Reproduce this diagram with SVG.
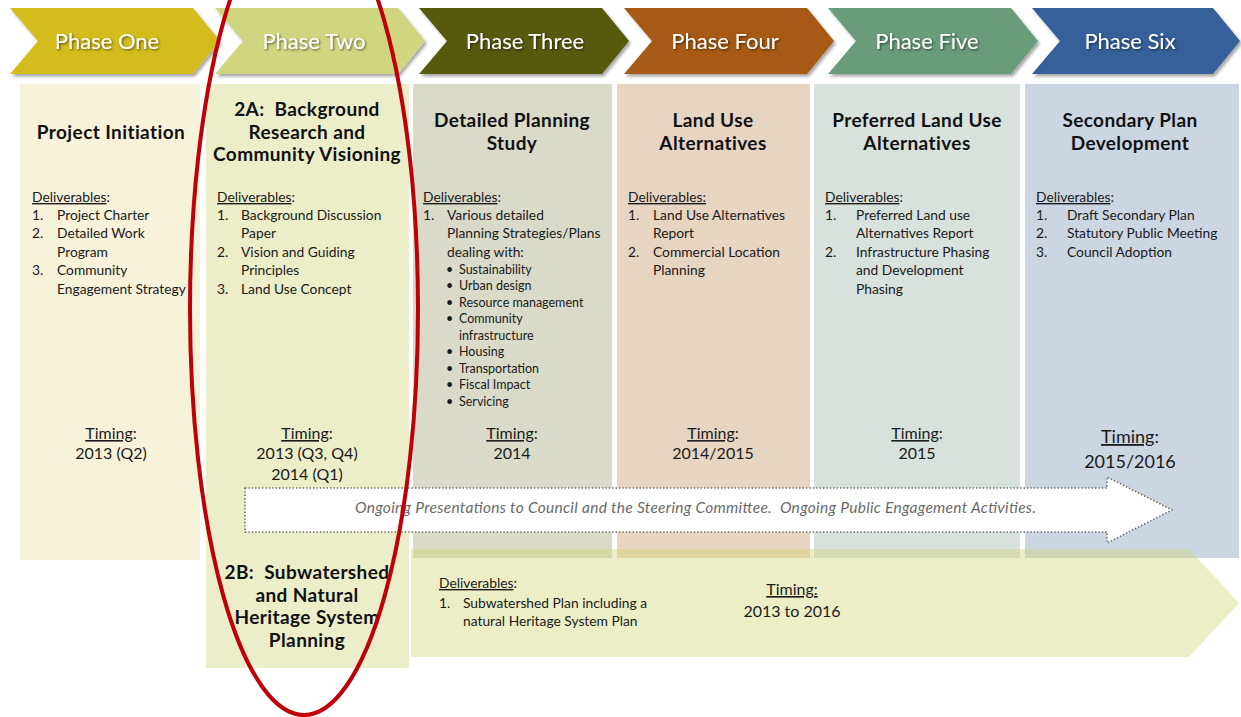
<svg xmlns="http://www.w3.org/2000/svg" width="1241" height="717" viewBox="0 0 1241 717">
<defs>
<filter id="shadow" x="-5%" y="-10%" width="115%" height="130%">
<feDropShadow dx="2" dy="2.5" stdDeviation="1.5" flood-color="#000" flood-opacity="0.35"/>
</filter>
<filter id="tshadow" x="-10%" y="-20%" width="120%" height="150%">
<feDropShadow dx="1.2" dy="1.2" stdDeviation="0.8" flood-color="#000" flood-opacity="0.55"/>
</filter>
<style>
text { font-family: "Gill Sans", Lato, "Open Sans", "DejaVu Sans", sans-serif; fill: #1a1a1a; white-space: pre; }
.ph { font-size: 22px; fill: #ffffff; text-anchor: middle; }
.hd { font-size: 19px; letter-spacing: 0.4px; font-weight: bold; text-anchor: middle; fill: #111; }
.tx { font-size: 13.8px; }
.sm { font-size: 12.5px; }
.tm { font-size: 16px; text-anchor: middle; }
.tm6 { font-size: 18px; text-anchor: middle; }
.u { text-decoration: underline; }
.ong { font-size: 15.5px; font-style: italic; fill: #6a6a6a; }
</style>
</defs>
<rect width="1241" height="717" fill="#ffffff"/>

<!-- Phase chevrons -->
<g id="phase-one-chevron" filter="url(#shadow)">
<path d="M10,8 L193,8 L220,41 L193,74 L10,74 L38,41 Z" fill="#D3BC1C"/>
<text class="ph" x="107" y="49" filter="url(#tshadow)">Phase One</text>
</g>
<g id="phase-two-chevron" filter="url(#shadow)">
<path d="M215,8 L398,8 L425,41 L398,74 L215,74 L243,41 Z" fill="#D0D67F"/>
<text class="ph" x="314" y="49" filter="url(#tshadow)">Phase Two</text>
</g>
<g id="phase-three-chevron" filter="url(#shadow)">
<path d="M419,8 L602,8 L629,41 L602,74 L419,74 L447,41 Z" fill="#575A0E"/>
<text class="ph" x="525" y="49" filter="url(#tshadow)">Phase Three</text>
</g>
<g id="phase-four-chevron" filter="url(#shadow)">
<path d="M624,8 L807,8 L834,41 L807,74 L624,74 L652,41 Z" fill="#A65A12"/>
<text class="ph" x="725" y="49" filter="url(#tshadow)">Phase Four</text>
</g>
<g id="phase-five-chevron" filter="url(#shadow)">
<path d="M828,8 L1011,8 L1038,41 L1011,74 L828,74 L856,41 Z" fill="#699C78"/>
<text class="ph" x="927" y="49" filter="url(#tshadow)">Phase Five</text>
</g>
<g id="phase-six-chevron" filter="url(#shadow)">
<path d="M1032,8 L1213,8 L1240,41 L1213,74 L1032,74 L1060,41 Z" fill="#34619A"/>
<text class="ph" x="1130" y="49" filter="url(#tshadow)">Phase Six</text>
</g>

<!-- Column boxes -->
<g id="phase-one-box">
<rect x="20" y="84" width="180" height="476" fill="#F7F2DA"/>
<text class="hd" x="111" y="139">Project Initiation</text>
<text class="tx" x="32" y="202"><tspan class="u">Deliverables</tspan>:</text>
<text class="tx" x="32" y="220">1.</text><text class="tx" x="57" y="220">Project Charter</text>
<text class="tx" x="32" y="238">2.</text><text class="tx" x="57" y="238">Detailed Work</text>
<text class="tx" x="57" y="257">Program</text>
<text class="tx" x="32" y="275">3.</text><text class="tx" x="57" y="275">Community</text>
<text class="tx" x="57" y="294">Engagement Strategy</text>
<text class="tm" x="111" y="439"><tspan class="u">Timing</tspan>:</text>
<text class="tm" x="111" y="459">2013 (Q2)</text>
</g>

<g id="phase-two-box">
<rect x="206" y="84" width="203" height="584" fill="#EBEEC8"/>
<text class="hd" x="307" y="116">2A:  Background</text>
<text class="hd" x="307" y="139">Research and</text>
<text class="hd" x="307" y="161">Community Visioning</text>
<text class="tx" x="217" y="202"><tspan class="u">Deliverables</tspan>:</text>
<text class="tx" x="217" y="220">1.</text><text class="tx" x="241" y="220">Background Discussion</text>
<text class="tx" x="241" y="238">Paper</text>
<text class="tx" x="217" y="257">2.</text><text class="tx" x="241" y="257">Vision and Guiding</text>
<text class="tx" x="241" y="275">Principles</text>
<text class="tx" x="217" y="294">3.</text><text class="tx" x="241" y="294">Land Use Concept</text>
<text class="tm" x="307" y="439"><tspan class="u">Timing</tspan>:</text>
<text class="tm" x="307" y="459">2013 (Q3, Q4)</text>
<text class="tm" x="307" y="480">2014 (Q1)</text>
</g>

<g id="phase-three-box">
<rect x="413" y="84" width="199" height="474" fill="#D9DAC8"/>
<text class="hd" x="512" y="127">Detailed Planning</text>
<text class="hd" x="512" y="150">Study</text>
<text class="tx" x="423" y="202"><tspan class="u">Deliverables</tspan>:</text>
<text class="tx" x="423" y="220">1.</text><text class="tx" x="447" y="220">Various detailed</text>
<text class="tx" x="447" y="238">Planning Strategies/Plans</text>
<text class="tx" x="447" y="257">dealing with:</text>
<text class="sm" x="446" y="274">•</text><text class="sm" x="459" y="274">Sustainability</text>
<text class="sm" x="446" y="290">•</text><text class="sm" x="459" y="290">Urban design</text>
<text class="sm" x="446" y="307">•</text><text class="sm" x="459" y="307">Resource management</text>
<text class="sm" x="446" y="323">•</text><text class="sm" x="459" y="323">Community</text>
<text class="sm" x="459" y="340">infrastructure</text>
<text class="sm" x="446" y="356">•</text><text class="sm" x="459" y="356">Housing</text>
<text class="sm" x="446" y="373">•</text><text class="sm" x="459" y="373">Transportation</text>
<text class="sm" x="446" y="389">•</text><text class="sm" x="459" y="389">Fiscal Impact</text>
<text class="sm" x="446" y="406">•</text><text class="sm" x="459" y="406">Servicing</text>
<text class="tm" x="512" y="439"><tspan class="u">Timing</tspan>:</text>
<text class="tm" x="512" y="459">2014</text>
</g>

<g id="phase-four-box">
<rect x="617" y="84" width="193" height="474" fill="#E7D4C1"/>
<text class="hd" x="713" y="127">Land Use</text>
<text class="hd" x="713" y="150">Alternatives</text>
<text class="tx" x="628" y="202"><tspan class="u">Deliverables:</tspan></text>
<text class="tx" x="628" y="220">1.</text><text class="tx" x="653" y="220">Land Use Alternatives</text>
<text class="tx" x="653" y="238">Report</text>
<text class="tx" x="628" y="257">2.</text><text class="tx" x="653" y="257">Commercial Location</text>
<text class="tx" x="653" y="275">Planning</text>
<text class="tm" x="713" y="439"><tspan class="u">Timing</tspan>:</text>
<text class="tm" x="713" y="459">2014/2015</text>
</g>

<g id="phase-five-box">
<rect x="814" y="84" width="206" height="474" fill="#D8E1DC"/>
<text class="hd" x="917" y="127">Preferred Land Use</text>
<text class="hd" x="917" y="150">Alternatives</text>
<text class="tx" x="825" y="202"><tspan class="u">Deliverables</tspan>:</text>
<text class="tx" x="825" y="220">1.</text><text class="tx" x="856" y="220">Preferred Land use</text>
<text class="tx" x="856" y="238">Alternatives Report</text>
<text class="tx" x="825" y="257">2.</text><text class="tx" x="856" y="257">Infrastructure Phasing</text>
<text class="tx" x="856" y="275">and Development</text>
<text class="tx" x="856" y="294">Phasing</text>
<text class="tm" x="917" y="439"><tspan class="u">Timing</tspan>:</text>
<text class="tm" x="917" y="459">2015</text>
</g>

<g id="phase-six-box">
<rect x="1025" y="84" width="214" height="474" fill="#CBD6E2"/>
<text class="hd" x="1130" y="127">Secondary Plan</text>
<text class="hd" x="1130" y="150">Development</text>
<text class="tx" x="1036" y="202"><tspan class="u">Deliverables</tspan>:</text>
<text class="tx" x="1036" y="220">1.</text><text class="tx" x="1067" y="220">Draft Secondary Plan</text>
<text class="tx" x="1036" y="238">2.</text><text class="tx" x="1067" y="238">Statutory Public Meeting</text>
<text class="tx" x="1036" y="257">3.</text><text class="tx" x="1067" y="257">Council Adoption</text>
<text class="tm6" x="1130" y="443"><tspan class="u">Timing</tspan>:</text>
<text class="tm6" x="1130" y="468">2015/2016</text>
</g>

<!-- 2B bottom arrow -->
<g id="phase-2b">
<path d="M411,549 L1189,549 L1239,603 L1189,657 L411,657 Z" fill="rgb(210,214,120)" fill-opacity="0.42"/>
<text class="hd" x="307" y="579">2B:  Subwatershed</text>
<text class="hd" x="307" y="602">and Natural</text>
<text class="hd" x="307" y="624">Heritage System</text>
<text class="hd" x="307" y="647">Planning</text>
<text class="tx" x="439" y="588"><tspan class="u">Deliverables</tspan>:</text>
<text class="tx" x="439" y="608">1.</text><text class="tx" x="463" y="608">Subwatershed Plan including a</text>
<text class="tx" x="463" y="626">natural Heritage System Plan</text>
<text class="tm" x="792" y="595"><tspan class="u">Timing:</tspan></text>
<text class="tm" x="792" y="617">2013 to 2016</text>
</g>

<!-- Ongoing activities arrow -->
<g id="connectors">
<g id="ongoing-arrow">
<path d="M245,488 L1107,488 L1107,477 L1172,510 L1107,543 L1107,532 L245,532 Z" fill="#ffffff" stroke="#6a6a6a" stroke-width="1.6" stroke-dasharray="1.4 2" stroke-linejoin="round"/>
<text class="ong" x="355" y="513" textLength="681" lengthAdjust="spacing">Ongoing Presentations to Council and the Steering Committee.  Ongoing Public Engagement Activities.</text>
</g>
</g>

<!-- Red highlight ellipse -->
<g id="highlight">
<ellipse cx="304" cy="309" rx="114" ry="406" fill="none" stroke="#C00008" stroke-width="4"/>
</g>
</svg>
